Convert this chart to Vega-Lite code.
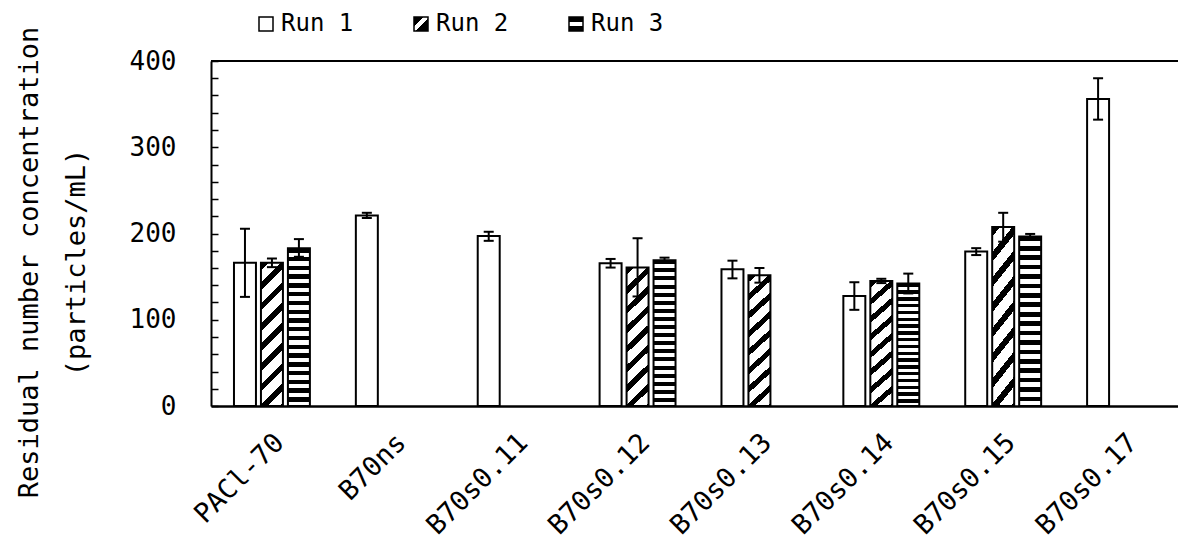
{
  "$schema": "https://vega.github.io/schema/vega-lite/v6.json",
  "autosize": "none",
  "padding": {"left": 211, "top": 61, "right": 0, "bottom": 136},
  "width": 975,
  "height": 345,
  "background": "white",
  "config": {
    "view": {"stroke": null},
    "font": "DejaVu Sans Mono",
    "axis": {"labelFont": "DejaVu Sans Mono", "titleFont": "DejaVu Sans Mono", "labelColor": "black", "titleColor": "black", "grid": false},
    "legend": {"labelFont": "DejaVu Sans Mono", "labelColor": "black"}
  },
  "data": {
    "values": [
      {"group": "PACl-70", "run": "Run 1", "value": 166, "lo": 126.5, "hi": 205.5},
      {"group": "PACl-70", "run": "Run 2", "value": 166, "lo": 161, "hi": 171},
      {"group": "PACl-70", "run": "Run 3", "value": 183, "lo": 173, "hi": 193.5},
      {"group": "B70ns", "run": "Run 1", "value": 221, "lo": 218, "hi": 224},
      {"group": "B70s0.11", "run": "Run 1", "value": 197, "lo": 191.5, "hi": 202},
      {"group": "B70s0.12", "run": "Run 1", "value": 165.5, "lo": 160.5, "hi": 170.5},
      {"group": "B70s0.12", "run": "Run 2", "value": 160.5, "lo": 127, "hi": 194.5},
      {"group": "B70s0.12", "run": "Run 3", "value": 169, "lo": 166, "hi": 172},
      {"group": "B70s0.13", "run": "Run 1", "value": 158.5, "lo": 148, "hi": 168.5},
      {"group": "B70s0.13", "run": "Run 2", "value": 151.5, "lo": 143, "hi": 160},
      {"group": "B70s0.14", "run": "Run 1", "value": 127.5, "lo": 111.5, "hi": 143.5},
      {"group": "B70s0.14", "run": "Run 2", "value": 145, "lo": 142.5, "hi": 147.5},
      {"group": "B70s0.14", "run": "Run 3", "value": 142, "lo": 130.5, "hi": 153.5},
      {"group": "B70s0.15", "run": "Run 1", "value": 179, "lo": 175, "hi": 183},
      {"group": "B70s0.15", "run": "Run 2", "value": 207.5, "lo": 190.5, "hi": 224},
      {"group": "B70s0.15", "run": "Run 3", "value": 196.5, "lo": 193.5, "hi": 199.5},
      {"group": "B70s0.17", "run": "Run 1", "value": 356, "lo": 332, "hi": 380}
    ]
  },
  "encoding": {
    "x": {
      "field": "group", "type": "nominal",
      "sort": ["PACl-70", "B70ns", "B70s0.11", "B70s0.12", "B70s0.13", "B70s0.14", "B70s0.15", "B70s0.17"],
      "scale": {"paddingInner": 0.336, "paddingOuter": 0.168},
      "axis": {"title": null, "labelAngle": -45, "labelFontSize": 27, "labelPadding": 32, "labelOffset": 8, "ticks": false, "domainColor": "black", "domainWidth": 2.5, "labelAlign": "right", "labelBaseline": "middle"}
    },
    "xOffset": {
      "field": "run", "type": "nominal",
      "scale": {"domain": ["Run 1", "Run 2", "Run 3"], "paddingInner": 0.185, "paddingOuter": 0.0926}
    },
    "y": {
      "field": "value", "type": "quantitative",
      "scale": {"domain": [0, 400], "nice": false},
      "axis": {
        "values": [0, 20, 40, 60, 80, 100, 120, 140, 160, 180, 200, 220, 240, 260, 280, 300, 320, 340, 360, 380, 400],
        "labelExpr": "datum.value % 100 === 0 ? datum.label : ''",
        "tickSize": -7, "tickColor": "black", "tickWidth": 1.5,
        "domainColor": "black", "domainWidth": 2,
        "labelFontSize": 26, "labelPadding": 42,
        "title": ["Residual number concentration", "(particles/mL)"],
        "titleFontSize": 27, "titleFontWeight": "normal", "titleLineHeight": 47,
        "titleX": -182, "titleY": 201, "titleBaseline": "middle", "titleAngle": -90
      }
    },
    "stroke": {
      "field": "run", "type": "nominal",
      "scale": {"domain": ["Run 1", "Run 2", "Run 3"], "range": ["black", "black", "black"]},
      "legend": {
        "title": null, "orient": "none", "legendX": 43, "legendY": -49, "direction": "horizontal",
        "symbolType": "square", "symbolSize": 196, "symbolStrokeWidth": 1.5,
        "labelFontSize": 24, "labelOffset": 3, "columnPadding": 55,
        "encode": {
          "symbols": {
            "update": {
              "fill": [
                {"test": "datum.value === 'Run 2'", "value": {"gradient": "linear", "x1": 0, "y1": 0, "x2": 1, "y2": 1, "stops": [
                  {"offset": 0, "color": "black"}, {"offset": 0.35, "color": "black"}, {"offset": 0.35, "color": "white"}, {"offset": 0.55, "color": "white"}, {"offset": 0.55, "color": "black"}, {"offset": 1, "color": "black"}]}},
                {"test": "datum.value === 'Run 3'", "value": {"gradient": "linear", "x1": 0, "y1": 0, "x2": 0, "y2": 1, "stops": [
                  {"offset": 0, "color": "black"}, {"offset": 0.38, "color": "black"}, {"offset": 0.38, "color": "white"}, {"offset": 0.62, "color": "white"}, {"offset": 0.62, "color": "black"}, {"offset": 1, "color": "black"}]}},
                {"value": "white"}
              ],
              "fillOpacity": {"value": 1}
            }
          }
        }
      }
    }
  },
  "layer": [
    {
      "mark": {"type": "rule", "color": "black", "strokeWidth": 1.5},
      "encoding": {"y": {"datum": 400, "type": "quantitative"}, "x": null, "xOffset": null, "stroke": null}
    },
    {
      "transform": [{"filter": "datum.run === 'Run 1'"}],
      "mark": {"type": "bar", "fill": "white", "strokeWidth": 2}
    },
    {
      "transform": [{"filter": "datum.run === 'Run 2'"}],
      "mark": {"type": "bar", "strokeWidth": 2, "fill": {"gradient": "linear", "x1": 0, "y1": 0, "x2": 0.177, "y2": 1.15, "stops": [
        {"offset": 0, "color": "black"}, {"offset": 0.046, "color": "black"}, {"offset": 0.046, "color": "white"}, {"offset": 0.12, "color": "white"},
        {"offset": 0.12, "color": "black"}, {"offset": 0.166, "color": "black"}, {"offset": 0.166, "color": "white"}, {"offset": 0.24, "color": "white"},
        {"offset": 0.24, "color": "black"}, {"offset": 0.286, "color": "black"}, {"offset": 0.286, "color": "white"}, {"offset": 0.36, "color": "white"},
        {"offset": 0.36, "color": "black"}, {"offset": 0.406, "color": "black"}, {"offset": 0.406, "color": "white"}, {"offset": 0.48, "color": "white"},
        {"offset": 0.48, "color": "black"}, {"offset": 0.526, "color": "black"}, {"offset": 0.526, "color": "white"}, {"offset": 0.6, "color": "white"},
        {"offset": 0.6, "color": "black"}, {"offset": 0.646, "color": "black"}, {"offset": 0.646, "color": "white"}, {"offset": 0.72, "color": "white"},
        {"offset": 0.72, "color": "black"}, {"offset": 0.766, "color": "black"}, {"offset": 0.766, "color": "white"}, {"offset": 0.84, "color": "white"},
        {"offset": 0.84, "color": "black"}, {"offset": 0.886, "color": "black"}, {"offset": 0.886, "color": "white"}, {"offset": 0.96, "color": "white"},
        {"offset": 0.96, "color": "black"}, {"offset": 1, "color": "black"}
      ]}}
    },
    {
      "transform": [{"filter": "datum.run === 'Run 3'"}],
      "mark": {"type": "bar", "strokeWidth": 2, "fill": {"gradient": "linear", "x1": 0, "y1": 0, "x2": 0, "y2": 1, "stops": [
        {"offset": 0, "color": "black"}, {"offset": 0.0278, "color": "black"}, {"offset": 0.0278, "color": "white"}, {"offset": 0.0556, "color": "white"},
        {"offset": 0.0556, "color": "black"}, {"offset": 0.0833, "color": "black"}, {"offset": 0.0833, "color": "white"}, {"offset": 0.1111, "color": "white"},
        {"offset": 0.1111, "color": "black"}, {"offset": 0.1389, "color": "black"}, {"offset": 0.1389, "color": "white"}, {"offset": 0.1667, "color": "white"},
        {"offset": 0.1667, "color": "black"}, {"offset": 0.1944, "color": "black"}, {"offset": 0.1944, "color": "white"}, {"offset": 0.2222, "color": "white"},
        {"offset": 0.2222, "color": "black"}, {"offset": 0.25, "color": "black"}, {"offset": 0.25, "color": "white"}, {"offset": 0.2778, "color": "white"},
        {"offset": 0.2778, "color": "black"}, {"offset": 0.3056, "color": "black"}, {"offset": 0.3056, "color": "white"}, {"offset": 0.3333, "color": "white"},
        {"offset": 0.3333, "color": "black"}, {"offset": 0.3611, "color": "black"}, {"offset": 0.3611, "color": "white"}, {"offset": 0.3889, "color": "white"},
        {"offset": 0.3889, "color": "black"}, {"offset": 0.4167, "color": "black"}, {"offset": 0.4167, "color": "white"}, {"offset": 0.4444, "color": "white"},
        {"offset": 0.4444, "color": "black"}, {"offset": 0.4722, "color": "black"}, {"offset": 0.4722, "color": "white"}, {"offset": 0.5, "color": "white"},
        {"offset": 0.5, "color": "black"}, {"offset": 0.5278, "color": "black"}, {"offset": 0.5278, "color": "white"}, {"offset": 0.5556, "color": "white"},
        {"offset": 0.5556, "color": "black"}, {"offset": 0.5833, "color": "black"}, {"offset": 0.5833, "color": "white"}, {"offset": 0.6111, "color": "white"},
        {"offset": 0.6111, "color": "black"}, {"offset": 0.6389, "color": "black"}, {"offset": 0.6389, "color": "white"}, {"offset": 0.6667, "color": "white"},
        {"offset": 0.6667, "color": "black"}, {"offset": 0.6944, "color": "black"}, {"offset": 0.6944, "color": "white"}, {"offset": 0.7222, "color": "white"},
        {"offset": 0.7222, "color": "black"}, {"offset": 0.75, "color": "black"}, {"offset": 0.75, "color": "white"}, {"offset": 0.7778, "color": "white"},
        {"offset": 0.7778, "color": "black"}, {"offset": 0.8056, "color": "black"}, {"offset": 0.8056, "color": "white"}, {"offset": 0.8333, "color": "white"},
        {"offset": 0.8333, "color": "black"}, {"offset": 0.8611, "color": "black"}, {"offset": 0.8611, "color": "white"}, {"offset": 0.8889, "color": "white"},
        {"offset": 0.8889, "color": "black"}, {"offset": 0.9167, "color": "black"}, {"offset": 0.9167, "color": "white"}, {"offset": 0.9444, "color": "white"},
        {"offset": 0.9444, "color": "black"}, {"offset": 0.9722, "color": "black"}, {"offset": 0.9722, "color": "white"}, {"offset": 1, "color": "white"}
      ]}}
    },
    {
      "mark": {"type": "rule", "strokeWidth": 2},
      "encoding": {"y": {"field": "lo", "type": "quantitative"}, "y2": {"field": "hi"}}
    },
    {
      "mark": {"type": "tick", "color": "black", "opacity": 1, "thickness": 2, "size": 10},
      "encoding": {"y": {"field": "lo", "type": "quantitative"}, "stroke": null}
    },
    {
      "mark": {"type": "tick", "color": "black", "opacity": 1, "thickness": 2, "size": 10},
      "encoding": {"y": {"field": "hi", "type": "quantitative"}, "stroke": null}
    }
  ]
}
